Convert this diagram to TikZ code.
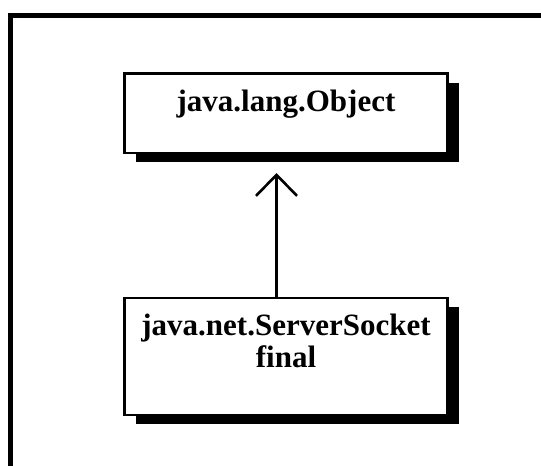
\documentclass[tikz,border=0pt]{standalone}
\usepackage{fontspec}
\setmainfont{Liberation Serif}
\usetikzlibrary{arrows.meta,shadows}
\begin{document}
\begin{tikzpicture}[x=1pt,y=-1pt,
  classbox/.style={draw=black, line width=2.6pt, fill=white, minimum width=323pt,
    inner sep=0pt, outer sep=0pt, anchor=north west,
    drop shadow={shadow xshift=11pt, shadow yshift=-9pt, opacity=1, fill=black}},
  classname/.style={font=\fontsize{31}{33}\selectfont\bfseries, inner sep=0pt, anchor=base},
  frameline/.style={line width=5pt},
  inherit/.style={line width=2.6pt,
    -{Straight Barb[length=21pt,width=41pt,line width=2.6pt]}}
]
\useasboundingbox (0,0) rectangle (541,466);

% outer frame (left and top edges)
\draw[frameline] (10.5,470) -- (10.5,15.5) -- (545,15.5);

% classes
\node[classbox, minimum height=79.5pt] (object) at (124.5,73.5) {};
\node[classbox, minimum height=117pt] (socket) at (124.5,298) {};

\node[classname] (objectname) at (286,111) {java.lang.Object};
\node[classname] (socketname) at (286,335) {java.net.ServerSocket};
\node[classname] (socketmod) at (286,367) {final};

% inheritance arrow
\coordinate (tip) at (276.5,173);
\draw[inherit] (socket.north -| tip) -- (tip);
\end{tikzpicture}
\end{document}
